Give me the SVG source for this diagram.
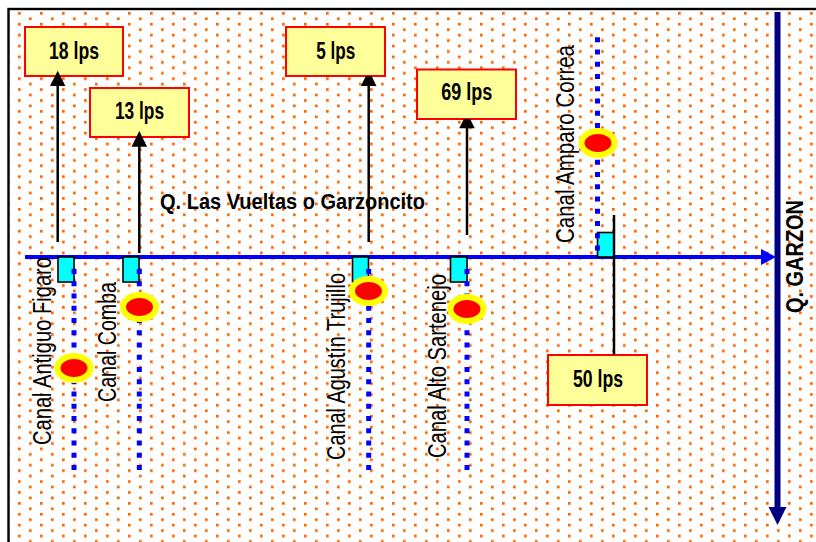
<svg xmlns="http://www.w3.org/2000/svg" width="816" height="542" viewBox="0 0 816 542">
<defs>
<pattern id="dots" patternUnits="userSpaceOnUse" x="18" y="12" width="22" height="10.889">
<rect x="0" y="0" width="2.7" height="2.7" fill="#FF6600"/>
<rect x="11" y="5.445" width="2.7" height="2.7" fill="#FF6600"/>
</pattern>
<style>
.box{fill:#FFFF99;stroke:#FF0000;stroke-width:2}
.lbl{font-family:"Liberation Sans",Arial,sans-serif;font-weight:bold;font-size:23px;fill:#000;text-anchor:middle}
.canal{font-family:"Liberation Sans",Arial,sans-serif;font-size:25px;fill:#000}
.gate{fill:#00FFFF;stroke:#000;stroke-width:1.6}
.dotl{stroke:#0000FF;stroke-width:5;stroke-dasharray:5 7.25;fill:none}
.pt{fill:#FF0000;stroke:#FFFF00;stroke-width:6}
.conn{stroke:#000;stroke-width:2.5;fill:none}
.head{fill:#000}
</style>
</defs>
<rect x="8.5" y="9" width="820" height="545" fill="#FFFFFF"/>
<rect x="8.5" y="9" width="820" height="545" fill="url(#dots)" stroke="#000" stroke-width="2.4"/>

<g id="rio-vueltas">
<line x1="25" y1="257" x2="763" y2="257" stroke="#0000FF" stroke-width="4"/>
<polygon points="761,249 776,257 761,265" fill="#0000FF"/>
<text x="160" y="209" style="font-family:'Liberation Sans',Arial,sans-serif;font-weight:bold;font-size:22px" textLength="265" lengthAdjust="spacingAndGlyphs">Q. Las Vueltas o Garzoncito</text>
</g>

<g id="rio-garzon">
<line x1="777.5" y1="12" x2="777.5" y2="509" stroke="#000080" stroke-width="6"/>
<polygon points="768.5,507 786.5,507 777.5,525" fill="#000080"/>
<text transform="translate(803,313) rotate(-90)" style="font-family:'Liberation Sans',Arial,sans-serif;font-weight:bold;font-size:23px" textLength="113" lengthAdjust="spacingAndGlyphs">Q. GARZON</text>
</g>

<g id="canal-antiguo-figaro">
<rect class="gate" x="58" y="257" width="16" height="25"/>
<line class="dotl" x1="74" y1="269" x2="74" y2="470"/>
<ellipse class="pt" cx="74" cy="368" rx="16.5" ry="12"/>
<text class="canal" transform="translate(51,445) rotate(-90)" textLength="188" lengthAdjust="spacingAndGlyphs">Canal Antiguo Figaro</text>
</g>

<g id="canal-comba">
<rect class="gate" x="123" y="257" width="16" height="25"/>
<line class="dotl" x1="139.3" y1="269" x2="139.3" y2="470"/>
<ellipse class="pt" cx="139.5" cy="307" rx="16.5" ry="12"/>
<text class="canal" transform="translate(116,402) rotate(-90)" textLength="120" lengthAdjust="spacingAndGlyphs">Canal Comba</text>
</g>

<g id="canal-agustin-trujillo">
<rect class="gate" x="352.5" y="257" width="16" height="25"/>
<line class="dotl" x1="368.7" y1="269" x2="368.7" y2="470"/>
<ellipse class="pt" cx="368.5" cy="291" rx="16.5" ry="12"/>
<text class="canal" transform="translate(345,460) rotate(-90)" textLength="187" lengthAdjust="spacingAndGlyphs">Canal Agustín Trujillo</text>
</g>

<g id="canal-alto-sartenejo">
<rect class="gate" x="450.5" y="257" width="16.5" height="25"/>
<line class="dotl" x1="467" y1="269" x2="467" y2="470"/>
<ellipse class="pt" cx="467" cy="309" rx="16.5" ry="12"/>
<text class="canal" transform="translate(446,458) rotate(-90)" textLength="184" lengthAdjust="spacingAndGlyphs">Canal Alto Sartenejo</text>
</g>

<g id="canal-amparo-correa">
<rect class="gate" x="597.5" y="232.5" width="16.5" height="24.5"/>
<line class="dotl" x1="597.5" y1="37.3" x2="597.5" y2="251"/>
<ellipse class="pt" cx="598" cy="143" rx="16.5" ry="12"/>
<text class="canal" transform="translate(574,243) rotate(-90)" textLength="198" lengthAdjust="spacingAndGlyphs">Canal Amparo Correa</text>
</g>

<g id="caudal-18">
<rect class="box" x="25" y="27" width="98" height="49"/>
<text class="lbl" x="74" y="58.5" textLength="50" lengthAdjust="spacingAndGlyphs">18 lps</text>
</g>
<g id="caudal-13">
<rect class="box" x="90" y="88" width="99" height="49"/>
<text class="lbl" x="139.5" y="118.5" textLength="49" lengthAdjust="spacingAndGlyphs">13 lps</text>
</g>
<g id="caudal-5">
<rect class="box" x="286" y="27" width="99" height="49"/>
<text class="lbl" x="335.7" y="58.5" textLength="39" lengthAdjust="spacingAndGlyphs">5 lps</text>
</g>
<g id="caudal-69">
<rect class="box" x="417" y="69.5" width="99" height="49.5"/>
<text class="lbl" x="466.7" y="100" textLength="51" lengthAdjust="spacingAndGlyphs">69 lps</text>
</g>
<g id="caudal-50">
<rect class="box" x="548" y="355" width="99" height="50"/>
<text class="lbl" x="598" y="386.7" textLength="50" lengthAdjust="spacingAndGlyphs">50 lps</text>
</g>

<g id="connectors">
<line class="conn" x1="57.7" y1="242" x2="57.7" y2="85"/>
<polygon class="head" points="50,86 65.4,86 57.7,70.7"/>
<line class="conn" x1="139.3" y1="253" x2="139.3" y2="146"/>
<polygon class="head" points="131.5,146.7 147.1,146.7 139.3,131"/>
<line class="conn" x1="368.7" y1="242" x2="368.7" y2="85"/>
<polygon class="head" points="360.9,86 376.5,86 371.5,76 365.9,76"/>
<line class="conn" x1="467" y1="235" x2="467" y2="128"/>
<polygon class="head" points="459.2,128.3 474.8,128.3 470.1,119 463.9,119"/>
<line class="conn" x1="614" y1="215" x2="614" y2="355"/>
</g>
</svg>
